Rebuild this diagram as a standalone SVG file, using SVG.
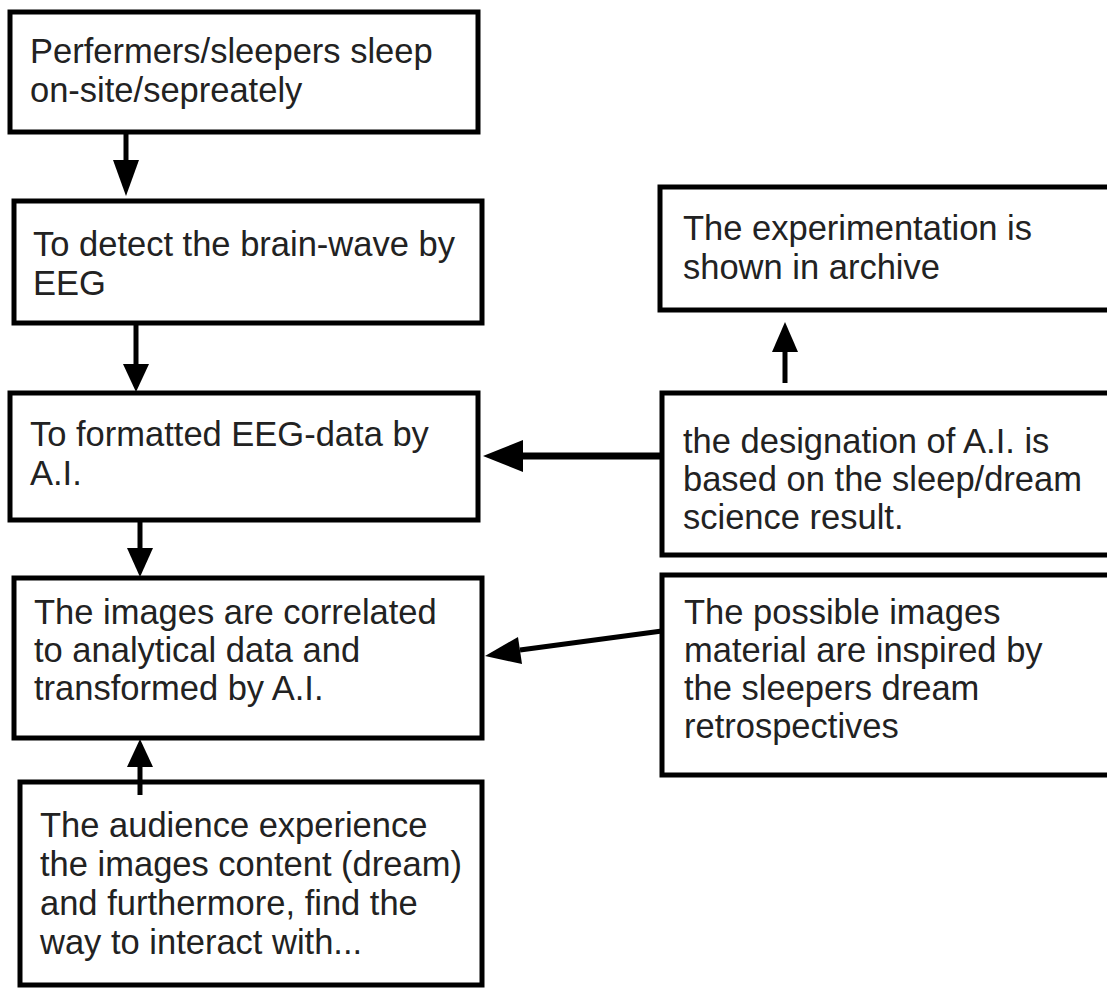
<svg xmlns="http://www.w3.org/2000/svg" width="1107" height="988" viewBox="0 0 1107 988">
<defs>
<style>
.box{fill:#ffffff;stroke:#000000;stroke-width:5}
.t{font-family:"Liberation Sans",Arial,sans-serif;font-size:34.5px;fill:#222222}
.c{stroke:#000000;stroke-width:5;fill:none}
.h{fill:#000000;stroke:none}
</style>
</defs>
<rect width="1107" height="988" fill="#ffffff"/>
<g id="n1"><rect class="box" x="10" y="12" width="468" height="120"/><text class="t" x="30" y="63">Perfermers/sleepers sleep</text><text class="t" x="30" y="102">on-site/sepreately</text></g>
<g id="n2"><rect class="box" x="14" y="201" width="468" height="122"/><text class="t" x="33" y="256">To detect the brain-wave by</text><text class="t" x="33" y="295">EEG</text></g>
<g id="n3"><rect class="box" x="10" y="393" width="468" height="127"/><text class="t" x="30" y="446">To formatted EEG-data by</text><text class="t" x="30" y="485">A.I.</text></g>
<g id="n4"><rect class="box" x="14" y="578" width="468" height="160"/><text class="t" x="34" y="624">The images are correlated</text><text class="t" x="34" y="662">to analytical data and</text><text class="t" x="34" y="700">transformed by A.I.</text></g>
<g id="n5"><rect class="box" x="20" y="782" width="462" height="203"/><text class="t" x="40" y="837">The audience experience</text><text class="t" x="40" y="876">the images content (dream)</text><text class="t" x="40" y="915">and furthermore, find the</text><text class="t" x="40" y="954">way to interact with...</text></g>
<g id="r1"><rect class="box" x="660" y="187" width="452" height="123"/><text class="t" x="683" y="240">The experimentation is</text><text class="t" x="683" y="279">shown in archive</text></g>
<g id="r2"><rect class="box" x="662" y="393" width="450" height="162"/><text class="t" x="683" y="453">the designation of A.I. is</text><text class="t" x="683" y="491">based on the sleep/dream</text><text class="t" x="683" y="529">science result.</text></g>
<g id="r3"><rect class="box" x="662" y="575" width="450" height="200"/><text class="t" x="684" y="624">The possible images</text><text class="t" x="684" y="662">material are inspired by</text><text class="t" x="684" y="700">the sleepers dream</text><text class="t" x="684" y="738">retrospectives</text></g>
<g id="connectors">
<line class="c" x1="126" y1="132" x2="126" y2="162"/><polygon class="h" points="113,160 139,160 126,196"/>
<line class="c" x1="136" y1="323" x2="136" y2="366"/><polygon class="h" points="123,364 149,364 136,392"/>
<line class="c" x1="140" y1="520" x2="140" y2="550"/><polygon class="h" points="127,548 153,548 140,577"/>
<line class="c" x1="140" y1="795" x2="140" y2="765"/><polygon class="h" points="127,767 153,767 140,739"/>
<line class="c" x1="785" y1="383" x2="785" y2="350"/><polygon class="h" points="772,352 798,352 785,322"/>
<line style="stroke:#000;stroke-width:7" x1="662" y1="456" x2="520" y2="456"/><polygon class="h" points="523,440 523,472 483,456"/>
<line class="c" x1="662" y1="631" x2="520" y2="650"/><polygon class="h" points="518,637 522,664 485,656"/>
</g>
</svg>
